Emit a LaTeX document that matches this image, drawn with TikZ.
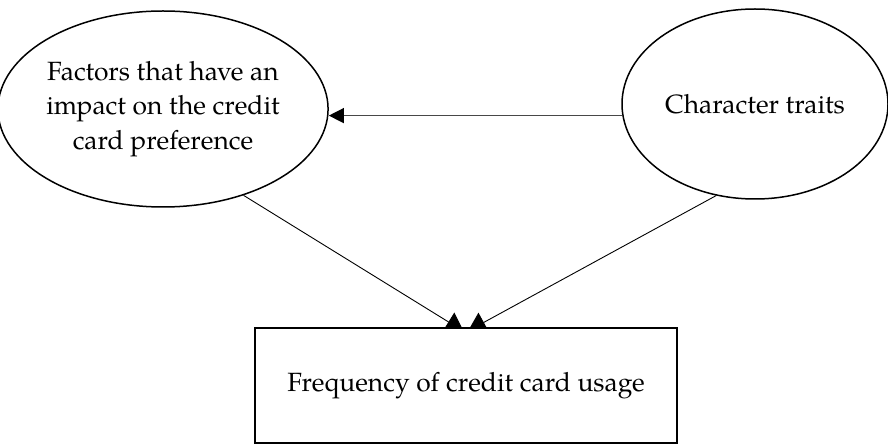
\documentclass[tikz,border=0pt]{standalone}
\usepackage{fontspec}
\setmainfont{texgyrepagella-regular.otf}
\usetikzlibrary{shapes.geometric,arrows.meta,backgrounds}
\begin{document}
\begin{tikzpicture}[x=1pt,y=-1pt,
  every node/.style={font=\fontsize{26.4}{34.5}\selectfont, inner sep=0pt, align=center},
  oval/.style={ellipse, draw, line width=1.5pt},
  boxnode/.style={rectangle, draw, fill=white, line width=1.6pt},
  link/.style={line width=0.9pt, shorten >=-8pt, -{Triangle[length=18pt,width=22pt]}},
  hlink/.style={line width=1.3pt, draw=black!72, -{Triangle[length=15pt,width=15pt,color=black]}}]
\useasboundingbox (0,0) rectangle (888,446);
\node[oval, minimum width=304pt, minimum height=196pt] (f) at (163,109)
  {Factors that have an\\impact on the credit\\card preference};
\node[oval, minimum width=266pt, minimum height=190pt] (c) at (755,104)
  {Character traits};
\node[boxnode, minimum width=422pt, minimum height=115pt] (r) at (466,385.5)
  {Frequency of credit card usage};
\coordinate (hs) at (c.185.63);
\draw[hlink] (hs) -- (hs -| f.east);
\begin{scope}[on background layer]
\draw[link] (f.-47) -- ([xshift=-9pt]r.north);
\draw[link] (c.247.3) -- ([xshift=9pt]r.north);
\end{scope}
\end{tikzpicture}
\end{document}
